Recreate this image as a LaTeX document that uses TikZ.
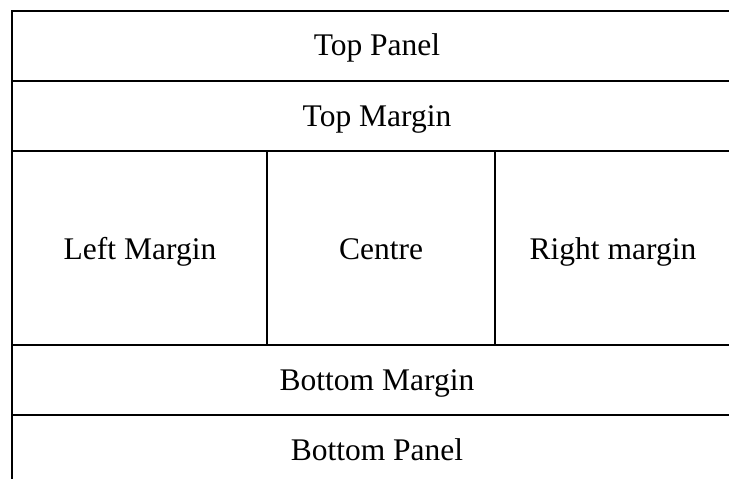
\documentclass[tikz,border=0pt]{standalone}
\usepackage{fontspec}
\setmainfont{Liberation Serif}
\begin{document}
\begin{tikzpicture}[x=1pt,y=-1pt,
  rule/.style={line width=2pt,line cap=rect},
  lbl/.style={font=\fontsize{31.5}{38}\selectfont,inner sep=0pt,anchor=base}]
\useasboundingbox (0,0) rectangle (729,479);
% outer frame (right and bottom edges cropped)
\draw[rule] (12,479) -- (12,11) -- (730,11);
\draw[rule] (12,81) -- (730,81);
\draw[rule] (12,151) -- (730,151);
\draw[rule] (12,345) -- (730,345);
\draw[rule] (12,415) -- (730,415);
\draw[rule] (267,151) -- (267,345);
\draw[rule] (495,151) -- (495,345);
\node[lbl] (tp) at (377,56) {Top Panel};
\node[lbl] (tm) at (377,126) {Top Margin};
\node[lbl] (lm) at (140,259) {Left Margin};
\node[lbl] (c) at (381,259) {Centre};
\node[lbl] (rm) at (613,259) {Right margin};
\node[lbl] (bm) at (377,390) {Bottom Margin};
\node[lbl] (bp) at (377,460) {Bottom Panel};
\end{tikzpicture}
\end{document}
